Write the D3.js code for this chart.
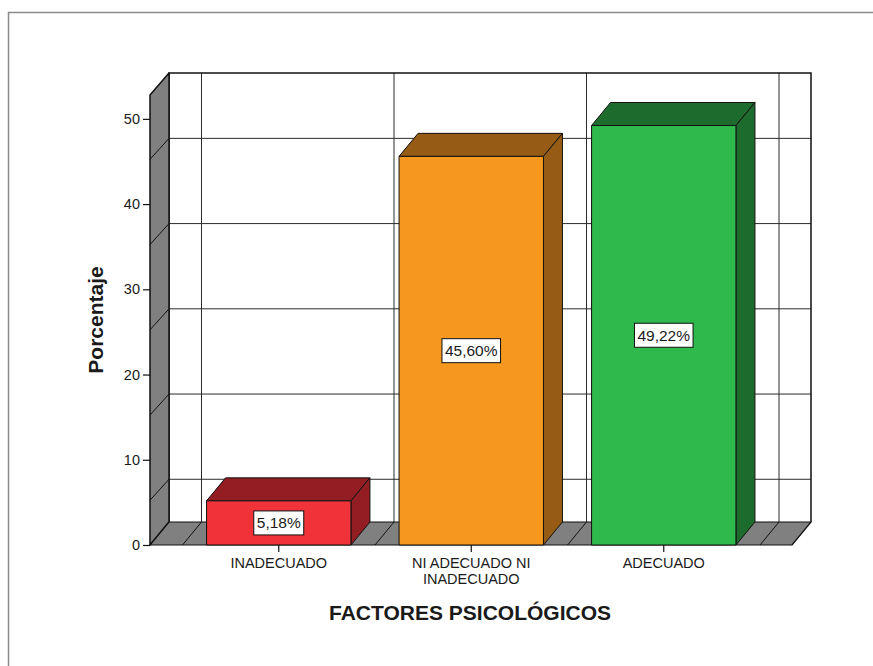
<!DOCTYPE html>
<html>
<head>
<meta charset="utf-8">
<script src="https://cdn.jsdelivr.net/npm/d3@7"></script>
<style>
  html, body { margin: 0; padding: 0; background: #ffffff; }
  svg { display: block; }
  text { font-family: "Liberation Sans", Arial, sans-serif; fill: #1a1a1a; }
</style>
</head>
<body>
<svg id="chart" width="873" height="666"></svg>
<script>
// Data
const categories = ["INADECUADO", "NI ADECUADO NI INADECUADO", "ADECUADO"];
const percentages = [5.18, 45.60, 49.22];
const yTickValues = [0, 10, 20, 30, 40, 50];
const yMax = 52.8;

// Colours (front face, shaded top/side)
const frontColors = ["#EF3339", "#F7981E", "#2FB84B"];
const shadeColors = ["#921D22", "#965B14", "#1E6C2D"];
const wallGray = "#808080";

const svg = d3.select("#chart");
const W = 873, H = 666;

// Plot geometry (front plane) and 3D depth offset
const x0 = 150, x1 = 792, yBase = 545, yTop = 95;
const dx = 19, dy = -23;
const gridShift = 19.5;   // back-wall gridline shift
const diagDrop = 21;      // side-wall gridline slant

const y = d3.scaleLinear().domain([0, yMax]).range([yBase, yTop]);
const x = d3.scaleBand().domain(categories).range([182.5, 760]).paddingInner(0).paddingOuter(0);
const barW = x.bandwidth() * 0.75;

const fmt = d3.formatLocale({ decimal: ",", thousands: ".", grouping: [3], currency: ["", "%"] }).format(".2f");

// Outer frame
svg.append("path")
  .attr("d", `M8.5,${H} L8.5,12.5 L${W},12.5`)
  .attr("fill", "none").attr("stroke", "#8a8a8a").attr("stroke-width", 1.5);

// Back wall
const bx0 = x0 + dx, bx1 = x1 + dx, byTop = yTop + dy + 1, byBase = yBase + dy;
svg.append("rect")
  .attr("x", bx0).attr("y", byTop).attr("width", bx1 - bx0).attr("height", byBase - byTop)
  .attr("fill", "#ffffff");

const grid = svg.append("g").attr("stroke", "#2b2b2b").attr("stroke-width", 1);
// horizontal gridlines on back wall
yTickValues.filter(v => v > 0).forEach(v => {
  grid.append("line")
    .attr("x1", bx0).attr("x2", bx1)
    .attr("y1", y(v) + gridShift).attr("y2", y(v) + gridShift);
});
// vertical gridlines at category boundaries
const bounds = categories.map(c => x(c)).concat([x(categories[categories.length - 1]) + x.bandwidth()]);
bounds.forEach(b => {
  grid.append("line")
    .attr("x1", b + dx).attr("x2", b + dx)
    .attr("y1", byTop).attr("y2", byBase);
});
// back wall outline
svg.append("path")
  .attr("d", `M${bx0},${byBase} L${bx0},${byTop} L${bx1},${byTop} L${bx1},${byBase}`)
  .attr("fill", "none").attr("stroke", "#111").attr("stroke-width", 1.5);

// Left side wall
svg.append("path")
  .attr("d", `M${x0},${yBase} L${x0},${yTop} L${bx0},${byTop} L${bx0},${byBase} Z`)
  .attr("fill", wallGray).attr("stroke", "#111").attr("stroke-width", 1.5).attr("stroke-linejoin", "round");
yTickValues.filter(v => v > 0).forEach(v => {
  svg.append("line")
    .attr("x1", x0).attr("y1", y(v) + gridShift + diagDrop)
    .attr("x2", bx0).attr("y2", y(v) + gridShift)
    .attr("stroke", "#111").attr("stroke-width", 1);
});

// Floor
svg.append("path")
  .attr("d", `M${x0},${yBase} L${x1},${yBase} L${bx1},${byBase} L${bx0},${byBase} Z`)
  .attr("fill", wallGray).attr("stroke", "#111").attr("stroke-width", 1.2).attr("stroke-linejoin", "round");
bounds.forEach(b => {
  svg.append("line")
    .attr("x1", b).attr("y1", yBase).attr("x2", b + dx).attr("y2", byBase)
    .attr("stroke", "#111").attr("stroke-width", 1);
});

// Bars
const bars = svg.append("g");
categories.forEach((c, i) => {
  const v = percentages[i];
  const cx = x(c) + x.bandwidth() / 2;
  const l = cx - barW / 2, r = cx + barW / 2;
  const t = y(v), b = y(0);
  const g = bars.append("g").attr("stroke", "#111").attr("stroke-width", 1).attr("stroke-linejoin", "round");
  // top face
  g.append("path")
    .attr("d", `M${l},${t} L${l + dx},${t + dy} L${r + dx},${t + dy} L${r},${t} Z`)
    .attr("fill", shadeColors[i]);
  // side face
  g.append("path")
    .attr("d", `M${r},${t} L${r + dx},${t + dy} L${r + dx},${b + dy} L${r},${b} Z`)
    .attr("fill", shadeColors[i]);
  // front face
  g.append("rect")
    .attr("x", l).attr("y", t).attr("width", r - l).attr("height", b - t)
    .attr("fill", frontColors[i]);
});

// Value labels
const labels = svg.append("g");
categories.forEach((c, i) => {
  const v = percentages[i];
  const cx = x(c) + x.bandwidth() / 2;
  const cy = (y(v) + y(0)) / 2;
  const lg = labels.append("g");
  const rect = lg.append("rect").attr("fill", "#fff").attr("stroke", "#111").attr("stroke-width", 1);
  const txt = lg.append("text")
    .attr("x", cx).attr("y", cy + 5.5)
    .attr("text-anchor", "middle")
    .attr("font-size", 15.5)
    .text(fmt(v) + "%");
  const w = txt.node().getComputedTextLength();
  rect.attr("x", cx - w / 2 - 3).attr("y", cy - 12).attr("width", w + 6).attr("height", 24);
});

// Y axis
const yAxis = d3.axisLeft(y).tickValues(yTickValues).tickSize(7).tickPadding(3).tickFormat(d3.format("d"));
const ya = svg.append("g").attr("transform", `translate(${x0},0)`).call(yAxis);
ya.select(".domain").remove();
ya.selectAll(".tick line").attr("stroke", "#111").attr("stroke-width", 1.2);
ya.selectAll(".tick text").attr("font-size", 14.5).attr("fill", "#1a1a1a")
  .attr("font-family", "Liberation Sans, Arial, sans-serif");

// X axis (category ticks + wrapped labels)
const xAxis = d3.axisBottom(x).tickSize(7).tickPadding(6);
const xa = svg.append("g").attr("transform", `translate(0,${yBase})`).call(xAxis);
xa.select(".domain").remove();
xa.selectAll(".tick line").attr("stroke", "#111").attr("stroke-width", 1.2);
xa.selectAll(".tick text").attr("font-size", 14.5).attr("fill", "#1a1a1a")
  .attr("font-family", "Liberation Sans, Arial, sans-serif")
  .each(function () {
    const t = d3.select(this);
    const words = t.text().split(/\s+/);
    t.text(null);
    const lines = [];
    let cur = [];
    const probe = t.append("tspan");
    words.forEach(wd => {
      const test = cur.concat([wd]).join(" ");
      probe.text(test);
      if (probe.node().getComputedTextLength() > 150 && cur.length) {
        lines.push(cur.join(" "));
        cur = [wd];
      } else {
        cur.push(wd);
      }
    });
    lines.push(cur.join(" "));
    probe.remove();
    lines.forEach((ln, k) => {
      t.append("tspan").attr("x", 0).attr("dy", k === 0 ? "0.71em" : "1.1em").text(ln);
    });
  });

// Axis titles
svg.append("text")
  .attr("transform", "translate(103,320) rotate(-90)")
  .attr("text-anchor", "middle")
  .attr("font-size", 21).attr("font-weight", "bold")
  .text("Porcentaje");

svg.append("text")
  .attr("x", 470).attr("y", 620)
  .attr("text-anchor", "middle")
  .attr("font-size", 21).attr("font-weight", "bold")
  .text("FACTORES PSICOLÓGICOS");
</script>
</body>
</html>
